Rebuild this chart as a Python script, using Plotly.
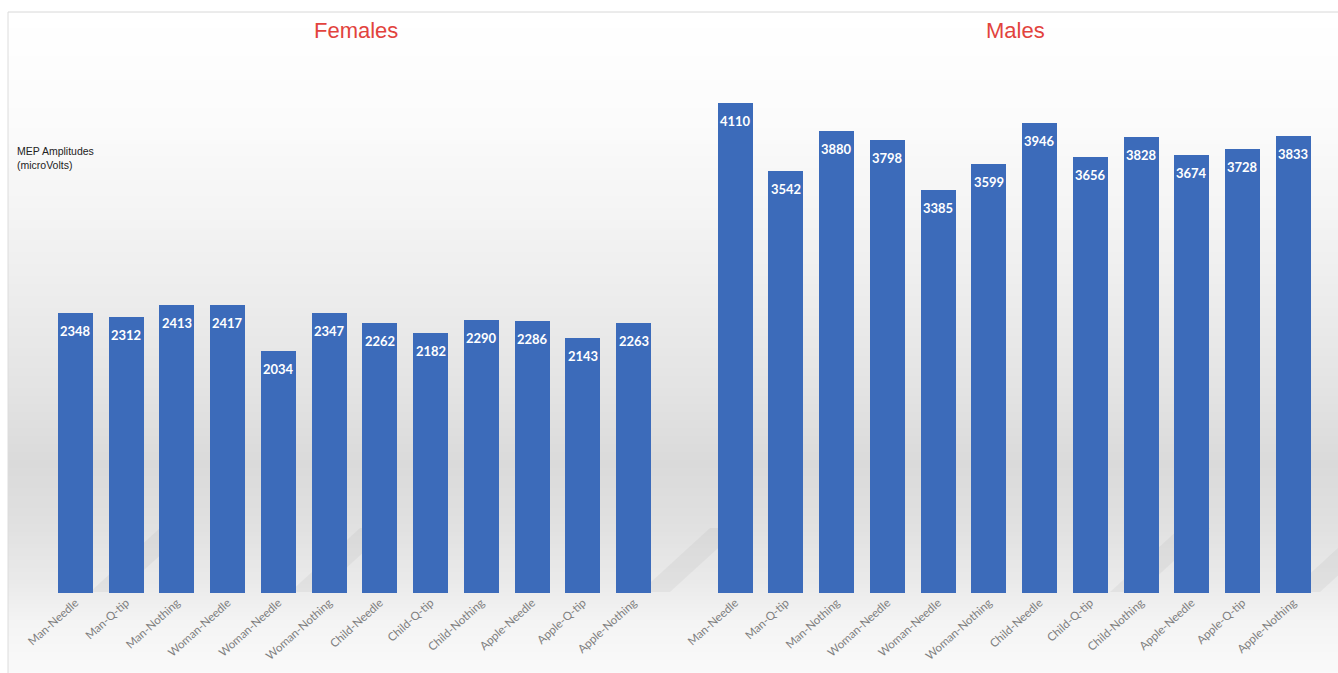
import plotly.graph_objects as go

# ---- data ----
conditions = ["Man-Needle", "Man-Q-tip", "Man-Nothing", "Woman-Needle", "Woman-Needle",
              "Woman-Nothing", "Child-Needle", "Child-Q-tip", "Child-Nothing",
              "Apple-Needle", "Apple-Q-tip", "Apple-Nothing"]
females = [2348, 2312, 2413, 2417, 2034, 2347, 2262, 2182, 2290, 2286, 2143, 2263]
males = [4110, 3542, 3880, 3798, 3385, 3599, 3946, 3656, 3828, 3674, 3728, 3833]
group_titles = ["Females", "Males"]
y_title = "MEP Amplitudes<br>(microVolts)"

W, H = 1338, 673
MB = 80
PH = H - MB  # plot height in px

f_pos = list(range(12))
m_pos = [13 + i for i in range(12)]

bar_color = "#3c6bba"
fig = go.Figure()
annotations = []
for pos, vals in [(f_pos, females), (m_pos, males)]:
    fig.add_trace(go.Bar(
        x=pos, y=vals, width=0.69,
        marker=dict(color=bar_color, line=dict(width=0)),
        showlegend=False, hoverinfo="skip",
    ))
    for p, v in zip(pos, vals):
        annotations.append(dict(
            x=p, y=v, xref="x", yref="y", text=str(v), showarrow=False,
            xanchor="center", yanchor="top", yshift=-8,
            font=dict(family="Lato", size=13, color="white", weight="bold")))

def py(ypx):
    return (PH - ypx) / PH

# background gradient (styling only)
stops = [(12, 255), (120, 251), (200, 245), (300, 236), (400, 226), (460, 218),
         (520, 224), (580, 234), (620, 244), (673, 250)]
shapes = []
step = 4
y = 12
while y < H:
    for (a0, ga), (b0, gb) in zip(stops[:-1], stops[1:]):
        if a0 <= y <= b0:
            g = int(round(ga + (gb - ga) * (y - a0) / (b0 - a0)))
            break
    col = f"rgb({g},{g},{g})"
    shapes.append(dict(type="rect", xref="paper", yref="paper", x0=8 / W, x1=1,
                       y0=py(min(y + step, H)), y1=py(y), fillcolor=col,
                       line=dict(width=0), layer="below"))
    y += step

# soft diagonal floor shadows (styling only)
for x_start in [90, 290, 640, 1110, 1290]:
    path = (f"M {x_start / W},{py(592)} L {(x_start + 70) / W},{py(528)} "
            f"L {(x_start + 100) / W},{py(528)} L {(x_start + 30) / W},{py(592)} Z")
    shapes.append(dict(type="path", xref="paper", yref="paper", path=path,
                       fillcolor="rgba(120,120,120,0.08)", line=dict(width=0), layer="below"))

# border lines
shapes.append(dict(type="line", xref="paper", yref="paper", x0=8 / W, x1=1,
                   y0=py(12), y1=py(12), line=dict(color="#d8d8d8", width=1), layer="below"))
shapes.append(dict(type="line", xref="paper", yref="paper", x0=8 / W, x1=8 / W,
                   y0=py(12), y1=py(H), line=dict(color="#dcdcdc", width=1), layer="below"))

annotations += [
    dict(text=group_titles[0], xref="paper", yref="paper", x=356 / W, y=py(31),
         xanchor="center", yanchor="middle", showarrow=False,
         font=dict(family="Liberation Sans", size=22, color="#e2433d")),
    dict(text=group_titles[1], xref="paper", yref="paper", x=1015 / W, y=py(31),
         xanchor="center", yanchor="middle", showarrow=False,
         font=dict(family="Liberation Sans", size=22, color="#e2433d")),
    dict(text=y_title, xref="paper", yref="paper", x=15 / W, y=py(143),
         xanchor="left", yanchor="top", align="left", showarrow=False,
         font=dict(family="Liberation Sans", size=10.5, color="#222222")),
]

px_per_unit = 50.74
a = -75.5 / px_per_unit
b = a + W / px_per_unit

fig.update_layout(
    width=W, height=H,
    margin=dict(l=0, r=0, t=0, b=MB),
    paper_bgcolor="white", plot_bgcolor="rgba(0,0,0,0)",
    shapes=shapes, annotations=annotations,
    bargap=0,
    xaxis=dict(range=[a, b], tickvals=f_pos + m_pos, ticktext=conditions + conditions,
               tickangle=-42, tickfont=dict(family="Lato", size=11.5, color="#808080"),
               showgrid=False, zeroline=False, showline=False, ticks=""),
    yaxis=dict(range=[0, PH / 0.1192], showticklabels=False, showgrid=False,
               zeroline=False, showline=False, ticks=""),
)

fig.write_html("out.html")
